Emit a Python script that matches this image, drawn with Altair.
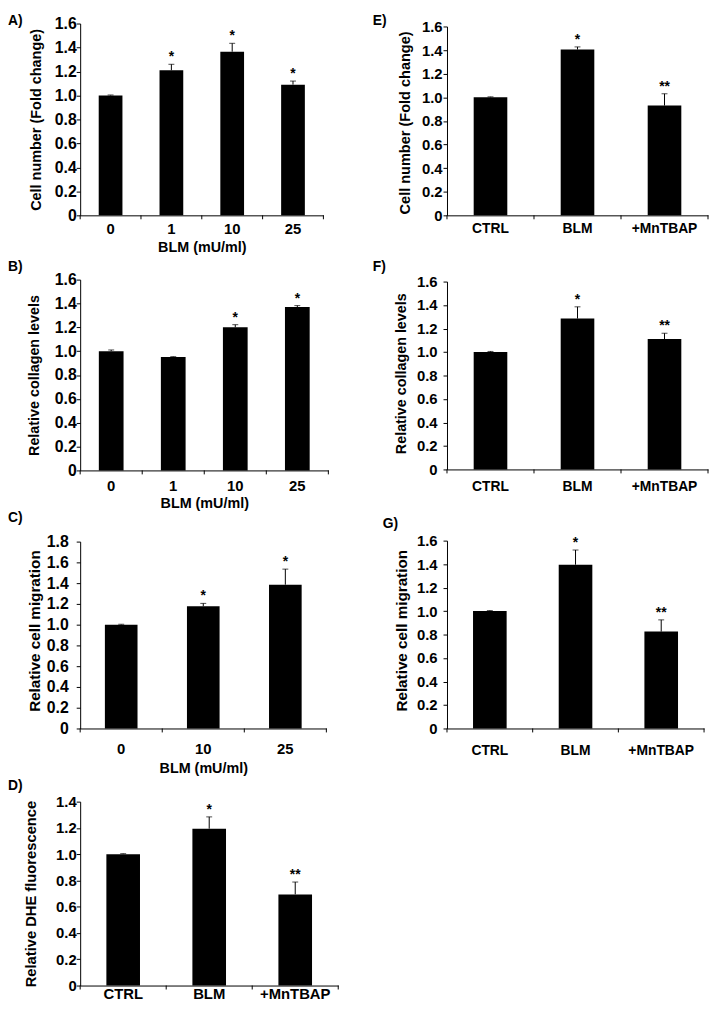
import altair as alt
import pandas as pd

FONT = "Liberation Sans"

# ---------------- data ----------------
dose4 = ["0", "1", "10", "25"]
dose3 = ["0", "10", "25"]
treat = ["CTRL", "BLM", "+MnTBAP"]

a_vals = [1.0, 1.21, 1.365, 1.09]
a_errs = [0.004, 0.05, 0.07, 0.03]
a_sig = ["", "*", "*", "*"]

b_vals = [1.0, 0.95, 1.20, 1.37]
b_errs = [0.01, 0.004, 0.022, 0.012]
b_sig = ["", "", "*", "*"]

c_vals = [1.0, 1.177, 1.385]
c_errs = [0.004, 0.028, 0.15]
c_sig = ["", "*", "*"]

d_vals = [1.0, 1.194, 0.694]
d_errs = [0.004, 0.09, 0.094]
d_sig = ["", "*", "**"]

e_vals = [1.0, 1.405, 0.93]
e_errs = [0.004, 0.022, 0.10]
e_sig = ["", "*", "**"]

f_vals = [1.0, 1.285, 1.11]
f_errs = [0.005, 0.10, 0.05]
f_sig = ["", "*", "**"]

g_vals = [1.0, 1.395, 0.825]
g_errs = [0.004, 0.125, 0.10]
g_sig = ["", "*", "**"]

ticks14 = [0, 0.2, 0.4, 0.6, 0.8, 1.0, 1.2, 1.4]
ticks16 = [0, 0.2, 0.4, 0.6, 0.8, 1.0, 1.2, 1.4, 1.6]
ticks18 = [0, 0.2, 0.4, 0.6, 0.8, 1.0, 1.2, 1.4, 1.6, 1.8]

BLM_TITLE = "BLM (mU/ml)"


def panel(letter, cats, vals, errs, sig, ymax, yticks, width, height, top, bar_w,
          xtitle, xtitle_y, ytitle, ytitle_size, ytitle_x, ytitle_y,
          ylabel_size, ylabel_pad, xlabel_size, xlabel_pad, letter_x, letter_y):
    df = pd.DataFrame({"cat": cats, "val": vals, "err": errs, "sig": sig})
    df["top"] = df["val"] + df["err"]

    xscale = alt.Scale(domain=cats, paddingInner=0, paddingOuter=0)
    xkw = dict(labelAngle=0, ticks=False, tickSize=0, labelFontSize=xlabel_size,
               labelPadding=xlabel_pad, grid=False, labelOverlap=False)
    if xtitle:
        xkw.update(title=xtitle, titleY=xtitle_y, titleBaseline="middle",
                   titleFontSize=14.5)
    else:
        xkw["title"] = None
    xaxis = alt.Axis(**xkw)

    yscale = alt.Scale(domain=[0, ymax], range=[height, top], nice=False, zero=True)
    yaxis = alt.Axis(values=yticks,
                     labelExpr="datum.value == 0 ? '0' : format(datum.value, '.1f')",
                     tickSize=4, labelPadding=ylabel_pad, labelFontSize=ylabel_size,
                     grid=False, labelOverlap=False, title=ytitle,
                     titleFontSize=ytitle_size, titleX=ytitle_x, titleY=ytitle_y,
                     titleAngle=270, titleBaseline="middle", titleAlign="center")

    x = alt.X("cat:N", sort=cats, scale=xscale, axis=xaxis)
    y = alt.Y("val:Q", scale=yscale, axis=yaxis)
    ytop = alt.Y("top:Q", scale=yscale, axis=yaxis)

    base = alt.Chart(df)
    bars = base.mark_bar(size=bar_w, color="black").encode(x=x, y=y)
    err = base.mark_rule(color="black", strokeWidth=1).encode(x=x, y=y, y2="top:Q")
    cap = base.mark_tick(color="black", size=6, thickness=1).encode(x=x, y=ytop)
    stars = base.mark_text(baseline="alphabetic", dy=-3, fontSize=14,
                           fontWeight="bold", color="black").encode(
        x=x, y=ytop, text="sig:N")
    tick0 = base.mark_rule(color="black", strokeWidth=1).encode(
        x=alt.X("cat:N", sort=cats, scale=xscale, axis=xaxis, bandPosition=0),
        y=alt.value(height), y2=alt.value(height + 4))
    tick1 = base.transform_filter(alt.datum.cat == cats[-1]).mark_rule(
        color="black", strokeWidth=1).encode(
        x=alt.X("cat:N", sort=cats, scale=xscale, axis=xaxis, bandPosition=1),
        y=alt.value(height), y2=alt.value(height + 4))
    lab = alt.Chart(pd.DataFrame({"t": [letter]})).mark_text(
        align="left", baseline="top", fontSize=14, fontWeight="bold",
        color="black").encode(x=alt.value(letter_x), y=alt.value(letter_y), text="t:N")
    return alt.layer(bars, err, cap, stars, tick0, tick1, lab).properties(
        width=width, height=height)


pA = panel("A)", dose4, a_vals, a_errs, a_sig, 1.6, ticks16, 246, 194, 0, 24,
           BLM_TITLE, 33, "Cell number (Fold change)", 14.6, -44, 97,
           16, 0, 15, 6, -73, -10)
pE = panel("E)", treat, e_vals, e_errs, e_sig, 1.6, ticks16, 264, 194, 3, 34,
           None, 0, "Cell number (Fold change)", 14.7, -42, 100,
           15, 1, 14, 6, -75, -10)
pB = panel("B)", dose4, b_vals, b_errs, b_sig, 1.6, ticks16, 251, 218, 25, 25,
           BLM_TITLE, 34, "Relative collagen levels", 14.5, -46, 121.5,
           16, 0, 15, 8, -73, 5)
pF = panel("F)", treat, f_vals, f_errs, f_sig, 1.6, ticks16, 264, 217, 27, 34,
           None, 0, "Relative collagen levels", 14.5, -46, 119.7,
           15, 6, 14, 10, -75, 5)
pC = panel("C)", dose3, c_vals, c_errs, c_sig, 1.8, ticks18, 249, 221, 32, 33,
           BLM_TITLE, 41, "Relative cell migration", 15.4, -46, 122,
           16, 8, 15, 13, -73, 1)
pG = panel("G)", treat, g_vals, g_errs, g_sig, 1.6, ticks16, 260, 221, 31, 34,
           None, 0, "Relative cell migration", 15.4, -46, 121.7,
           15, 6, 14, 15, -65, 7)
pD = panel("D)", treat, d_vals, d_errs, d_sig, 1.4, ticks14, 261, 220, 34, 34,
           None, 0, "Relative DHE fluorescence", 14.9, -49.5, 127,
           15, 0, 15, 1, -73, 11)

chart = alt.concat(
    pA, pE, pB, pF, pC, pG, pD,
    columns=2,
    spacing=alt.RowColnumber(row=40, column=110),
    bounds="flush",
).properties(padding=0).configure_view(stroke=None).configure_axis(
    labelFont=FONT, titleFont=FONT, labelFontWeight="bold", titleFontWeight="bold",
    labelColor="black", titleColor="black", domainColor="black", tickColor="black",
    domainWidth=1, tickWidth=1,
).configure_text(font=FONT)

chart.save("out.html", embed_options={"renderer": "svg", "actions": False})
